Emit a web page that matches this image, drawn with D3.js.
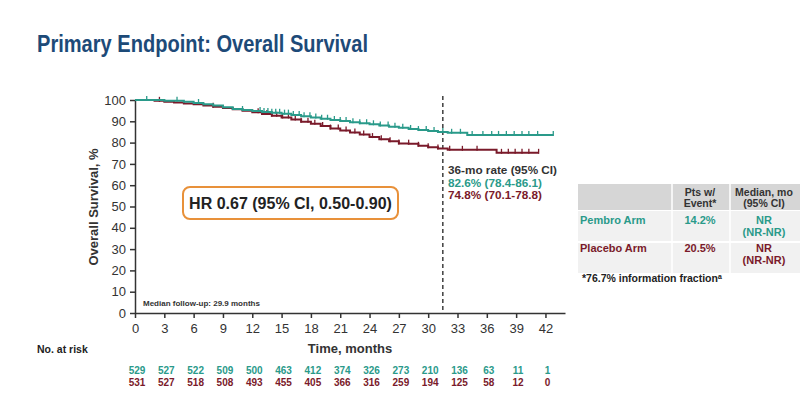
<!DOCTYPE html>
<html><head><meta charset="utf-8">
<script src="https://cdn.jsdelivr.net/npm/d3@7"></script>
<style>
body{margin:0;background:#fff;}
svg{display:block;font-family:"Liberation Sans",Arial,sans-serif;}
</style></head>
<body><svg id="c" width="800" height="411"></svg>
<script>
// ---- data ----
const pembroTime = [0,3,5,6,7,8,9,10,11,12,13,14,15,16,17,18,19,20,21,22,23,24,25,26,27,28,29,30,31,32,34,42.8];
const pembroSurv = [100,99.6,99.2,98.6,98,97.4,96.6,95.8,95.3,94.8,94.4,94,93.6,93,92.4,91.8,91.2,90.6,90.1,89.6,89.1,88.6,88,87.5,87,86.4,85.9,85.4,85,84.6,83.6,83.6];
const placeboTime = [0,2,3,4,5,6,7,8,9,10,11,12,13,14,15,16,17,18,19,20,21,22,23,24,25,26,27,28,29,30,31,32,37,41.3];
const placeboSurv = [100,99.6,99.2,98.8,98.4,98,97.4,96.8,96.2,95.6,95,94.2,93.4,92.6,91.8,90.8,89.8,88.8,87.8,86.6,85.7,84.8,83.8,82.6,81.6,80.6,79.6,79.5,78.5,77.8,77.2,76.6,75.2,75.2];
const pembroCensor = [1.2,4.3,6.5,11,12.8,13.2,13.6,14,14.4,14.8,15.3,15.7,16.2,16.8,17.3,17.9,18.5,19.1,19.7,20.4,21,21.6,22.3,23,23.7,24.4,25.1,25.9,26.6,27.4,28.2,29,29.8,30.6,31.5,32.4,33.3,34.5,35.6,36.5,37.2,38,38.8,39.6,40.3,41.2,42.8];
const placeboCensor = [2.5,8,12.6,13,13.5,14,14.5,15.1,15.7,16.4,17,17.7,18.4,19.2,20,20.8,21.6,22.5,23.4,24.3,25.2,26.1,27,28,29,30,31,32.2,33.5,35,37.5,38.2,38.9,39.6,40.3,41.3];
const xTicks = [0,3,6,9,12,15,18,21,24,27,30,33,36,39,42];
const yTicks = [0,10,20,30,40,50,60,70,80,90,100];
const pembroRisk = [529,527,522,509,500,463,412,374,326,273,210,136,63,11,1];
const placeboRisk = [531,527,518,508,493,455,405,366,316,259,194,125,58,12,0];
const landmark = 31.5;
const annotLines = ["36-mo rate (95% CI)","82.6% (78.4-86.1)","74.8% (70.1-78.8)"];
const tableHeader = [["Pts w/","Event*"],["Median, mo","(95% CI)"]];
const tableRows = [["Pembro Arm","14.2%","NR","(NR-NR)"],["Placebo Arm","20.5%","NR","(NR-NR)"]];

const teal = "#2a9a8a", maroon = "#7a1a2a", axisCol = "#333";
const svg = d3.select("#c");
const x = d3.scaleLinear().domain([0,44]).range([135,565]);
const y = d3.scaleLinear().domain([0,100]).range([313,100]);

// title
svg.append("text").attr("x",37).attr("y",52).text("Primary Endpoint: Overall Survival")
  .attr("font-family","'Liberation Sans Narrow','Arial Narrow',sans-serif").attr("font-weight","bold")
  .attr("font-size",23).attr("fill","#1d4a78").attr("textLength",331).attr("lengthAdjust","spacingAndGlyphs");

// axes
const xAxis = svg.append("g").attr("transform","translate(0,313)")
  .call(d3.axisBottom(x).tickValues(xTicks).tickSize(5).tickSizeOuter(0));
const yAxis = svg.append("g").attr("transform","translate(135,0)")
  .call(d3.axisLeft(y).tickValues(yTicks).tickSize(5).tickSizeOuter(0));
[xAxis,yAxis].forEach(a=>{
  a.select(".domain").attr("stroke",axisCol).attr("stroke-width",1.5);
  a.selectAll(".tick line").attr("stroke",axisCol).attr("stroke-width",1.5);
  a.selectAll(".tick text").attr("fill","#333").attr("font-size",13).attr("font-family","'Liberation Sans',Arial,sans-serif");
});
xAxis.selectAll(".tick text").attr("dy","0.9em");
yAxis.selectAll(".tick text").attr("dx","-1");

svg.append("text").attr("transform","translate(98,207) rotate(-90)").attr("text-anchor","middle")
  .attr("font-weight","bold").attr("font-size",13).attr("fill","#333").text("Overall Survival, %");
svg.append("text").attr("x",350).attr("y",353).attr("text-anchor","middle")
  .attr("font-weight","bold").attr("font-size",13).attr("fill","#333").text("Time, months");

// dashed landmark
svg.append("line").attr("x1",x(landmark)).attr("x2",x(landmark)).attr("y1",96).attr("y2",313)
  .attr("stroke","#222").attr("stroke-width",1.3).attr("stroke-dasharray","4,3");

// curves
function km(times, surv){ return times.map((t,i)=>[t,surv[i]]); }
function survAt(times, surv, t){ let v=surv[0]; for(let i=0;i<times.length;i++){ if(times[i]<=t) v=surv[i]; } return v; }
const line = d3.line().x(d=>x(d[0])).y(d=>y(d[1])).curve(d3.curveStepAfter);
[[placeboTime,placeboSurv,placeboCensor,maroon],[pembroTime,pembroSurv,pembroCensor,teal]].forEach(([t,s,c,col])=>{
  svg.append("path").datum(km(t,s)).attr("d",line).attr("fill","none").attr("stroke",col).attr("stroke-width",2);
  svg.append("g").selectAll("line").data(c).join("line")
    .attr("x1",d=>x(d)).attr("x2",d=>x(d))
    .attr("y1",d=>y(survAt(t,s,d))-4).attr("y2",d=>y(survAt(t,s,d))+1)
    .attr("stroke",col).attr("stroke-width",1.3);
});

// annotation
const annotW = [109,94,94];
annotLines.forEach((txt,i)=>{
  svg.append("text").attr("x",448).attr("y",174+i*12.5).attr("font-size",11).attr("font-weight","bold")
    .attr("fill",[ "#333",teal,maroon][i]).attr("textLength",annotW[i]).attr("lengthAdjust","spacingAndGlyphs").text(txt);
});

// HR box
svg.append("rect").attr("x",183).attr("y",187).attr("width",215).attr("height",32).attr("rx",7)
  .attr("fill","#fff").attr("stroke","#e8913a").attr("stroke-width",2);
svg.append("text").attr("x",290.5).attr("y",209).attr("text-anchor","middle").attr("font-weight","bold")
  .attr("font-size",16).attr("fill","#222").text("HR 0.67 (95% CI, 0.50-0.90)");

svg.append("text").attr("x",143).attr("y",306).attr("font-size",8).attr("font-weight","bold").attr("fill","#333")
  .text("Median follow-up: 29.9 months");

// at-risk table
svg.append("text").attr("x",37).attr("y",353).attr("font-size",10.5).attr("font-weight","bold").attr("fill","#222").text("No. at risk");
[[pembroRisk,teal,374],[placeboRisk,maroon,386]].forEach(([arr,col,yy])=>{
  svg.append("g").selectAll("text").data(arr).join("text")
    .attr("x",(d,i)=>x(xTicks[i])+2).attr("y",yy).attr("text-anchor","middle")
    .attr("font-size",10).attr("font-weight","bold").attr("fill",col).text(d=>d);
});

// summary table
const tb = svg.append("g");
tb.append("rect").attr("x",578).attr("y",184).attr("width",222).attr("height",26).attr("fill","#d6d6d6");
tb.append("rect").attr("x",578).attr("y",211).attr("width",222).attr("height",30).attr("fill","#f1f1f1");
tb.append("rect").attr("x",578).attr("y",243).attr("width",222).attr("height",30).attr("fill","#f1f1f1");
[672,730].forEach(xx=>tb.append("line").attr("x1",xx).attr("x2",xx).attr("y1",184).attr("y2",273).attr("stroke","#fff").attr("stroke-width",1.5));
const colX = [700,764];
tableHeader.forEach((h,i)=>h.forEach((t,j)=>tb.append("text").attr("x",colX[i]).attr("y",196+j*10.5)
  .attr("text-anchor","middle").attr("font-size",10.5).attr("font-weight","bold").attr("fill","#333").text(t)));
tableRows.forEach((r,i)=>{
  const col = i===0?teal:maroon, yy = 224+i*28;
  tb.append("text").attr("x",580).attr("y",yy).attr("font-size",11).attr("font-weight","bold").attr("fill",col).text(r[0]);
  tb.append("text").attr("x",colX[0]).attr("y",yy).attr("text-anchor","middle").attr("font-size",11).attr("font-weight","bold").attr("fill",col).text(r[1]);
  tb.append("text").attr("x",colX[1]).attr("y",yy).attr("text-anchor","middle").attr("font-size",11).attr("font-weight","bold").attr("fill",col).text(r[2]);
  tb.append("text").attr("x",colX[1]).attr("y",yy+12).attr("text-anchor","middle").attr("font-size",11).attr("font-weight","bold").attr("fill",col).text(r[3]);
});
tb.append("text").attr("x",582).attr("y",282).attr("font-size",10.5).attr("font-weight","bold").attr("fill","#222")
  .text("*76.7% information fraction\u1D43");
</script></body></html>
